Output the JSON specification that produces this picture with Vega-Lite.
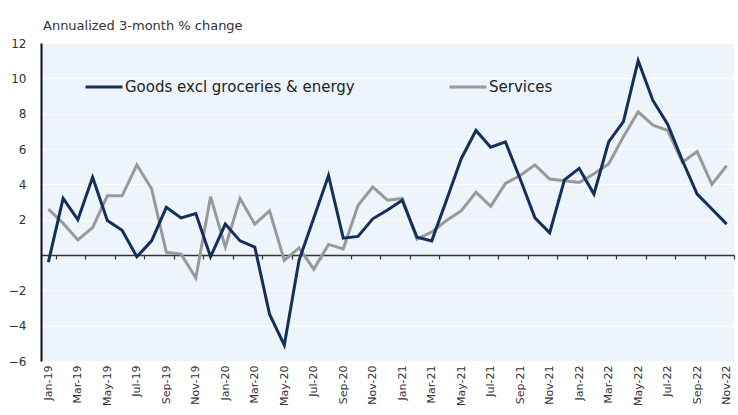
{
  "$schema": "https://vega.github.io/schema/vega-lite/v6.json",
  "width": 693,
  "height": 318,
  "autosize": {"type": "none"},
  "padding": {"left": 41, "top": 43, "right": 4, "bottom": 54},
  "background": "white",
  "title": {
    "text": "Annualized 3-month % change",
    "anchor": "start",
    "frame": "group",
    "baseline": "bottom",
    "offset": 12,
    "dy": 21,
    "dx": 2,
    "fontSize": 13,
    "fontWeight": "normal",
    "font": "DejaVu Sans",
    "color": "#333333"
  },
  "data": {
    "values": [
      {"month": "Jan-19", "series": "Services", "value": 2.6},
      {"month": "Feb-19", "series": "Services", "value": 1.8},
      {"month": "Mar-19", "series": "Services", "value": 0.85},
      {"month": "Apr-19", "series": "Services", "value": 1.55},
      {"month": "May-19", "series": "Services", "value": 3.35},
      {"month": "Jun-19", "series": "Services", "value": 3.35},
      {"month": "Jul-19", "series": "Services", "value": 5.1},
      {"month": "Aug-19", "series": "Services", "value": 3.75},
      {"month": "Sep-19", "series": "Services", "value": 0.15},
      {"month": "Oct-19", "series": "Services", "value": 0.05},
      {"month": "Nov-19", "series": "Services", "value": -1.3},
      {"month": "Dec-19", "series": "Services", "value": 3.3},
      {"month": "Jan-20", "series": "Services", "value": 0.45},
      {"month": "Feb-20", "series": "Services", "value": 3.2},
      {"month": "Mar-20", "series": "Services", "value": 1.75},
      {"month": "Apr-20", "series": "Services", "value": 2.5},
      {"month": "May-20", "series": "Services", "value": -0.3},
      {"month": "Jun-20", "series": "Services", "value": 0.4},
      {"month": "Jul-20", "series": "Services", "value": -0.8},
      {"month": "Aug-20", "series": "Services", "value": 0.6},
      {"month": "Sep-20", "series": "Services", "value": 0.35},
      {"month": "Oct-20", "series": "Services", "value": 2.8},
      {"month": "Nov-20", "series": "Services", "value": 3.85},
      {"month": "Dec-20", "series": "Services", "value": 3.1},
      {"month": "Jan-21", "series": "Services", "value": 3.2},
      {"month": "Feb-21", "series": "Services", "value": 0.9},
      {"month": "Mar-21", "series": "Services", "value": 1.3},
      {"month": "Apr-21", "series": "Services", "value": 1.95},
      {"month": "May-21", "series": "Services", "value": 2.5},
      {"month": "Jun-21", "series": "Services", "value": 3.55},
      {"month": "Jul-21", "series": "Services", "value": 2.75},
      {"month": "Aug-21", "series": "Services", "value": 4.05},
      {"month": "Sep-21", "series": "Services", "value": 4.5},
      {"month": "Oct-21", "series": "Services", "value": 5.1},
      {"month": "Nov-21", "series": "Services", "value": 4.3},
      {"month": "Dec-21", "series": "Services", "value": 4.2},
      {"month": "Jan-22", "series": "Services", "value": 4.1},
      {"month": "Feb-22", "series": "Services", "value": 4.6},
      {"month": "Mar-22", "series": "Services", "value": 5.15},
      {"month": "Apr-22", "series": "Services", "value": 6.7},
      {"month": "May-22", "series": "Services", "value": 8.1},
      {"month": "Jun-22", "series": "Services", "value": 7.35},
      {"month": "Jul-22", "series": "Services", "value": 7.05},
      {"month": "Aug-22", "series": "Services", "value": 5.25},
      {"month": "Sep-22", "series": "Services", "value": 5.85},
      {"month": "Oct-22", "series": "Services", "value": 4.0},
      {"month": "Nov-22", "series": "Services", "value": 5.05},
      {"month": "Jan-19", "series": "Goods excl groceries & energy", "value": -0.4},
      {"month": "Feb-19", "series": "Goods excl groceries & energy", "value": 3.2},
      {"month": "Mar-19", "series": "Goods excl groceries & energy", "value": 2.0},
      {"month": "Apr-19", "series": "Goods excl groceries & energy", "value": 4.4},
      {"month": "May-19", "series": "Goods excl groceries & energy", "value": 1.95},
      {"month": "Jun-19", "series": "Goods excl groceries & energy", "value": 1.4},
      {"month": "Jul-19", "series": "Goods excl groceries & energy", "value": -0.1},
      {"month": "Aug-19", "series": "Goods excl groceries & energy", "value": 0.8},
      {"month": "Sep-19", "series": "Goods excl groceries & energy", "value": 2.7},
      {"month": "Oct-19", "series": "Goods excl groceries & energy", "value": 2.1},
      {"month": "Nov-19", "series": "Goods excl groceries & energy", "value": 2.35},
      {"month": "Dec-19", "series": "Goods excl groceries & energy", "value": -0.1},
      {"month": "Jan-20", "series": "Goods excl groceries & energy", "value": 1.75},
      {"month": "Feb-20", "series": "Goods excl groceries & energy", "value": 0.8},
      {"month": "Mar-20", "series": "Goods excl groceries & energy", "value": 0.45},
      {"month": "Apr-20", "series": "Goods excl groceries & energy", "value": -3.35},
      {"month": "May-20", "series": "Goods excl groceries & energy", "value": -5.1},
      {"month": "Jun-20", "series": "Goods excl groceries & energy", "value": -0.3},
      {"month": "Jul-20", "series": "Goods excl groceries & energy", "value": 2.1},
      {"month": "Aug-20", "series": "Goods excl groceries & energy", "value": 4.5},
      {"month": "Sep-20", "series": "Goods excl groceries & energy", "value": 0.95},
      {"month": "Oct-20", "series": "Goods excl groceries & energy", "value": 1.05},
      {"month": "Nov-20", "series": "Goods excl groceries & energy", "value": 2.05},
      {"month": "Dec-20", "series": "Goods excl groceries & energy", "value": 2.55},
      {"month": "Jan-21", "series": "Goods excl groceries & energy", "value": 3.1},
      {"month": "Feb-21", "series": "Goods excl groceries & energy", "value": 1.0},
      {"month": "Mar-21", "series": "Goods excl groceries & energy", "value": 0.8},
      {"month": "Apr-21", "series": "Goods excl groceries & energy", "value": 3.1},
      {"month": "May-21", "series": "Goods excl groceries & energy", "value": 5.45},
      {"month": "Jun-21", "series": "Goods excl groceries & energy", "value": 7.05},
      {"month": "Jul-21", "series": "Goods excl groceries & energy", "value": 6.1},
      {"month": "Aug-21", "series": "Goods excl groceries & energy", "value": 6.4},
      {"month": "Sep-21", "series": "Goods excl groceries & energy", "value": 4.3},
      {"month": "Oct-21", "series": "Goods excl groceries & energy", "value": 2.1},
      {"month": "Nov-21", "series": "Goods excl groceries & energy", "value": 1.25},
      {"month": "Dec-21", "series": "Goods excl groceries & energy", "value": 4.25},
      {"month": "Jan-22", "series": "Goods excl groceries & energy", "value": 4.9},
      {"month": "Feb-22", "series": "Goods excl groceries & energy", "value": 3.45},
      {"month": "Mar-22", "series": "Goods excl groceries & energy", "value": 6.4},
      {"month": "Apr-22", "series": "Goods excl groceries & energy", "value": 7.55},
      {"month": "May-22", "series": "Goods excl groceries & energy", "value": 11.0},
      {"month": "Jun-22", "series": "Goods excl groceries & energy", "value": 8.75},
      {"month": "Jul-22", "series": "Goods excl groceries & energy", "value": 7.4},
      {"month": "Aug-22", "series": "Goods excl groceries & energy", "value": 5.35},
      {"month": "Sep-22", "series": "Goods excl groceries & energy", "value": 3.45},
      {"month": "Oct-22", "series": "Goods excl groceries & energy", "value": 2.6},
      {"month": "Nov-22", "series": "Goods excl groceries & energy", "value": 1.75}
    ]
  },
  "mark": {"type": "line", "strokeWidth": 3, "strokeJoin": "miter"},
  "encoding": {
    "x": {
      "field": "month",
      "type": "ordinal",
      "sort": null,
      "bandPosition": 0.5,
      "scale": {"type": "band", "paddingInner": 0, "paddingOuter": 0},
      "axis": {
        "title": null,
        "values": ["Jan-19","Mar-19","May-19","Jul-19","Sep-19","Nov-19","Jan-20","Mar-20","May-20","Jul-20","Sep-20","Nov-20","Jan-21","Mar-21","May-21","Jul-21","Sep-21","Nov-21","Jan-22","Mar-22","May-22","Jul-22","Sep-22","Nov-22"],
        "labelAngle": -90,
        "labelAlign": "right",
        "labelBaseline": "middle",
        "labelFont": "DejaVu Sans",
        "labelFontSize": 11,
        "labelColor": "#333333",
        "labelPadding": 106,
        "labelOverlap": false,
        "offset": -106,
        "tickBand": "extent",
        "tickSize": 4,
        "tickColor": "#333333",
        "tickWidth": 1.2,
        "domainColor": "#333333",
        "domainWidth": 1.5,
        "grid": false
      }
    },
    "y": {
      "field": "value",
      "type": "quantitative",
      "scale": {"domain": [-6, 12], "nice": false, "zero": false},
      "axis": {
        "title": null,
        "values": [-6, -4, -2, 2, 4, 6, 8, 10, 12],
        "ticks": false,
        "labelPadding": 15,
        "labelFont": "DejaVu Sans",
        "labelFontSize": 12,
        "labelColor": "#333333",
        "domainColor": "#111111",
        "domainWidth": 2,
        "grid": true,
        "gridColor": "#ffffff",
        "gridWidth": 1.2
      }
    },
    "color": {
      "field": "series",
      "type": "nominal",
      "scale": {"domain": ["Goods excl groceries & energy", "Services"], "range": ["#14305a", "#999999"]},
      "legend": {
        "title": null,
        "orient": "none",
        "legendX": 43,
        "legendY": 24,
        "direction": "horizontal",
        "columns": 2,
        "columnPadding": 88,
        "symbolType": "stroke",
        "symbolSize": 1369,
        "symbolStrokeWidth": 3,
        "labelOffset": 1,
        "labelFont": "DejaVu Sans",
        "labelFontSize": 15,
        "labelColor": "#222222",
        "labelLimit": 400,
        "padding": 0
      }
    }
  },
  "config": {
    "view": {"fill": "#eef4fb", "stroke": null}
  }
}
